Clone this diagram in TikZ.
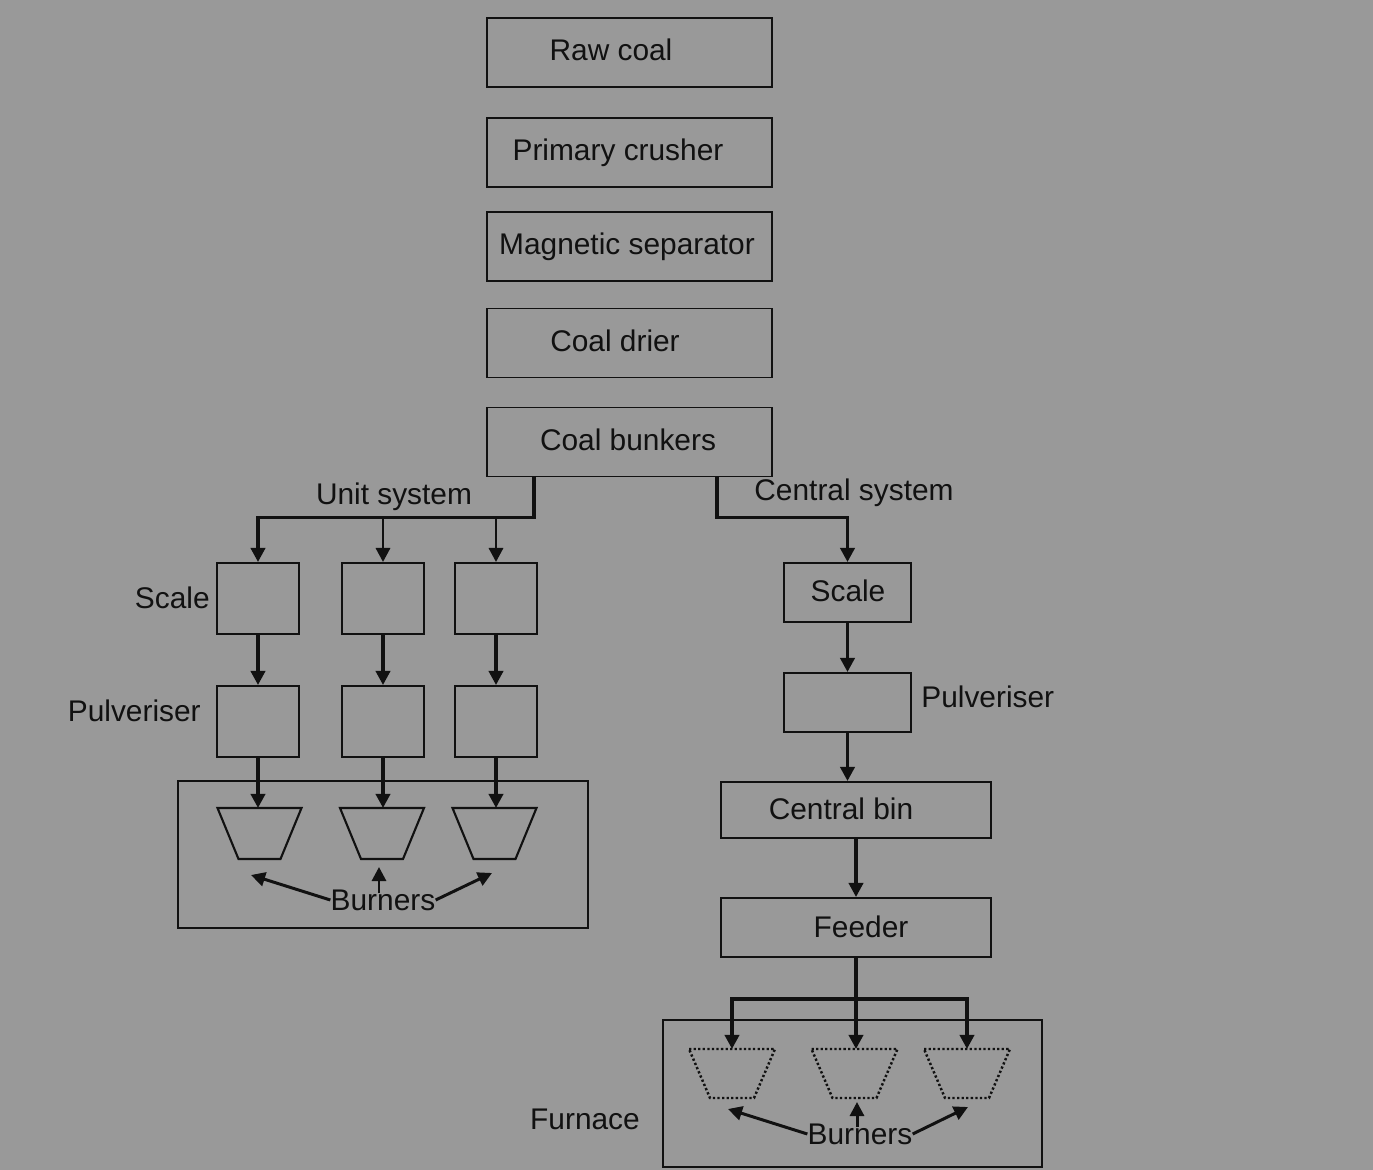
\documentclass[tikz,border=0pt]{standalone}
\usepackage{fontspec}
\setmainfont{Liberation Sans}
\usetikzlibrary{arrows.meta, positioning}
\definecolor{coalgray}{RGB}{153,153,153}
\definecolor{coalink}{RGB}{17,17,17}

\begin{document}
\begin{tikzpicture}[x=0.02cm, y=-0.02cm,
  box/.style={draw=coalink, line width=1.1pt, inner sep=0pt},
  stage/.style={box, minimum width=5.7cm, minimum height=1.38cm},
  unitbox/.style={box, minimum width=1.64cm, minimum height=1.42cm},
  txt/.style={font=\fontsize{17}{20}\selectfont, text=coalink, inner sep=0pt,
              text height=12.2pt, text depth=0pt},
  arr/.style={-{Triangle[length=8pt, width=8pt]}, coalink, line width=2.2pt},
  thinarr/.style={arr, line width=1.7pt},
  burner/.style={draw=coalink, line width=1.2pt, line join=miter},
  ghost/.style={burner, line width=1.4pt, dash pattern=on 1.3pt off 1.3pt},
]
  \fill[coalgray] (0,0) rectangle (1373,1170);

  % Preparation stages
  \node[stage] (raw)  at (629.5,52.5)  {};
  \node[stage] (crush) at (629.5,152.5) {};
  \node[stage] (magn) at (629.5,246.5) {};
  \node[stage] (drier) at (629.5,343)  {};
  \node[stage] (bunk) at (629.5,442)   {};
  \node[txt] (rawt)   at (611,50)  {Raw coal};
  \node[txt] (crusht) at (618,150) {Primary crusher};
  \node[txt] (magnt)  at (627,244) {Magnetic separator};
  \node[txt] (driert) at (615,341) {Coal drier};
  \node[txt] (bunkt)  at (628,440) {Coal bunkers};

  % Unit system
  \node[txt] (unitlab) at (394,494) {Unit system};
  \coordinate (ubus) at (260,516);
  \node[unitbox] (us1) at (258,598.5) {};
  \node[unitbox] (us2) at (383,598.5) {};
  \node[unitbox] (us3) at (496,598.5) {};
  \node[unitbox] (up1) at (258,721.5) {};
  \node[unitbox] (up2) at (383,721.5) {};
  \node[unitbox] (up3) at (496,721.5) {};
  \node[txt, anchor=east] (scalelab) at (210,598) {Scale};
  \node[txt, anchor=east] (pullab) at (201,711) {Pulveriser};

  \draw[arr] (bunk.south west) ++(48,0) -- ++(0,40) -| (us1);
  \draw[thinarr] (us2.north |- ubus) -- (us2);
  \draw[thinarr] (us3.north |- ubus) -- (us3);
  \foreach \i in {1,2,3}
    \draw[arr] (us\i) -- (up\i);

  \node[box, minimum width=8.2cm, minimum height=2.94cm] (ubox) at (383,854.5) {};
  \foreach \cx/\n in {259.5/1, 382/2, 494.5/3} {
    \draw[burner] (\cx-42,808) -- (\cx+42,808) -- (\cx+21,859) -- (\cx-21,859) -- cycle;
    \coordinate (ub\n) at (\cx,808);
  }
  \foreach \i in {1,2,3}
    \draw[arr] (up\i) -- (up\i |- ub\i);

  \node[txt] (ubt) at (383,900) {Burners};
  \coordinate (ua1) at (251,875);
  \coordinate (ua3) at (492,873);
  \draw[thinarr] (ubt.west) -- (ua1);
  \draw[thinarr] (ubt.east) -- (ua3);
  \draw[thinarr] (ubt.center) ++(-4,-7) -- ++(0,-26);

  % Central system
  \node[txt] (centlab) at (854,490) {Central system};
  \node[box, minimum width=2.54cm, minimum height=1.18cm] (cscale) at (847.5,592.5) {};
  \node[txt] (cscalet) at (848,591) {Scale};
  \node[box, minimum width=2.54cm, minimum height=1.18cm] (cpul) at (847.5,702.5) {};
  \node[txt, anchor=west] (cpullab) at (921,697) {Pulveriser};
  \node[box, minimum width=5.4cm, minimum height=1.12cm] (cbin) at (856,810) {};
  \node[txt] (cbint) at (841,809) {Central bin};
  \node[box, minimum width=5.4cm, minimum height=1.18cm] (feeder) at (856,927.5) {};
  \node[txt] (feedert) at (861,927) {Feeder};

  \draw[arr] (bunk.south west) ++(231,0) -- ++(0,40) -| (cscale);
  \draw[arr] (cscale) -- (cpul);
  \draw[arr] (cpul) -- (cpul |- cbin.north);
  \draw[arr] (cbin) -- (feeder);

  \node[box, minimum width=7.58cm, minimum height=2.94cm] (furnace) at (852.5,1093.5) {};
  \node[txt] (furnlab) at (585,1119) {Furnace};
  \coordinate (fbus) at (855,999);
  \foreach \cx/\n in {732/1, 854.5/2, 967/3} {
    \draw[ghost] (\cx-43,1049) -- (\cx+43,1049) -- (\cx+22,1098) -- (\cx-22,1098) -- cycle;
    \coordinate (cb\n) at (\cx,1049);
  }
  \draw[arr] (feeder) -- (feeder |- cb2);
  \draw[arr] (feeder |- fbus) -| (cb1);
  \draw[arr] (feeder |- fbus) -| (cb3);

  \node[txt] (cbt) at (860,1134) {Burners};
  \coordinate (ca1) at (728,1109);
  \coordinate (ca3) at (968,1107);
  \draw[thinarr] (cbt.west) -- (ca1);
  \draw[thinarr] (cbt.east) -- (ca3);
  \draw[thinarr] (cbt.center) ++(-3,-7) -- ++(0,-25);
\end{tikzpicture}
\end{document}
